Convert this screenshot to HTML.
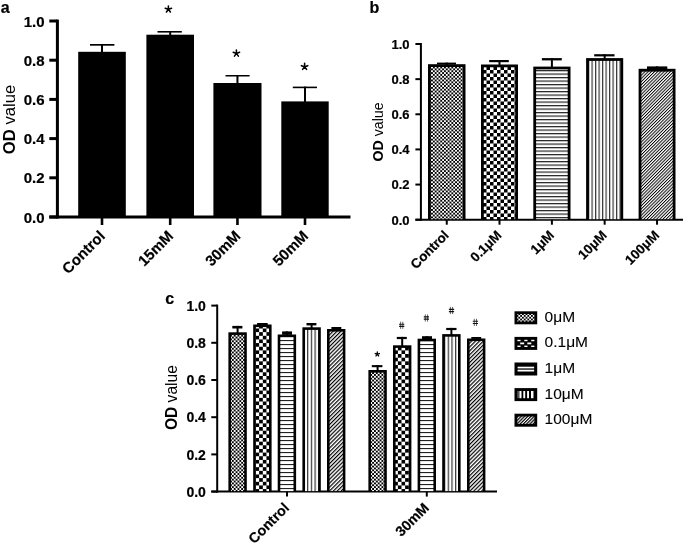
<!DOCTYPE html>
<html><head><meta charset="utf-8"><style>
html,body{margin:0;padding:0;background:#fff;}
svg{display:block;font-family:"Liberation Sans", sans-serif;filter:blur(0.35px);}
</style></head><body>
<svg width="685" height="544" viewBox="0 0 685 544">
<rect width="685" height="544" fill="#fff"/>
<defs>
 <pattern id="pdotsB" patternUnits="userSpaceOnUse" width="3.7" height="3.7">
  <rect width="3.7" height="3.7" fill="#fff"/>
  <rect x="0" y="0" width="1.85" height="1.85" fill="#000"/>
  <rect x="1.85" y="1.85" width="1.85" height="1.85" fill="#000"/>
 </pattern>
 <pattern id="pchkB" patternUnits="userSpaceOnUse" width="7.0" height="7.0">
  <rect width="7.0" height="7.0" fill="#fff"/>
  <rect x="0" y="0" width="3.5" height="3.5" fill="#000"/>
  <rect x="3.5" y="3.5" width="3.5" height="3.5" fill="#000"/>
 </pattern>
 <pattern id="phorB" patternUnits="userSpaceOnUse" width="10" height="3.5">
  <rect width="10" height="3.5" fill="#fff"/>
  <rect x="0" y="0" width="10" height="1.2" fill="#222"/>
 </pattern>
 <pattern id="pverB" patternUnits="userSpaceOnUse" width="3.5" height="10">
  <rect width="3.5" height="10" fill="#fff"/>
  <rect x="0" y="0" width="1.2" height="10" fill="#333"/>
 </pattern>
 <pattern id="pdiagB" patternUnits="userSpaceOnUse" width="2.25" height="2.25" patternTransform="rotate(45)">
  <rect width="2.25" height="2.25" fill="#fff"/>
  <rect x="0" y="0" width="0.95" height="2.25" fill="#000"/>
 </pattern>
 <pattern id="pdotsC" patternUnits="userSpaceOnUse" width="3.74" height="3.74">
  <rect width="3.74" height="3.74" fill="#fff"/>
  <rect x="0" y="0" width="1.87" height="1.87" fill="#000"/>
  <rect x="1.87" y="1.87" width="1.87" height="1.87" fill="#000"/>
 </pattern>
 <pattern id="pchkC" patternUnits="userSpaceOnUse" width="7.3" height="7.3">
  <rect width="7.3" height="7.3" fill="#fff"/>
  <rect x="0" y="0" width="3.65" height="3.65" fill="#000"/>
  <rect x="3.65" y="3.65" width="3.65" height="3.65" fill="#000"/>
 </pattern>
 <pattern id="phorC" patternUnits="userSpaceOnUse" width="10" height="4.0">
  <rect width="10" height="4.0" fill="#fff"/>
  <rect x="0" y="0" width="10" height="1.1" fill="#222"/>
 </pattern>
 <pattern id="pverC" patternUnits="userSpaceOnUse" width="3.7" height="10">
  <rect width="3.7" height="10" fill="#fff"/>
  <rect x="0" y="0" width="1.2" height="10" fill="#333"/>
 </pattern>
 <pattern id="pdiagC" patternUnits="userSpaceOnUse" width="2.76" height="2.76" patternTransform="rotate(45)">
  <rect width="2.76" height="2.76" fill="#fff"/>
  <rect x="0" y="0" width="1.2" height="2.76" fill="#000"/>
 </pattern>
 <pattern id="pdotsL" patternUnits="userSpaceOnUse" width="3.6" height="3.6">
  <rect width="3.6" height="3.6" fill="#fff"/>
  <rect x="0" y="0" width="1.8" height="1.8" fill="#000"/>
  <rect x="1.8" y="1.8" width="1.8" height="1.8" fill="#000"/>
 </pattern>
 <pattern id="pchkL" patternUnits="userSpaceOnUse" width="5.2" height="5.2">
  <rect width="5.2" height="5.2" fill="#fff"/>
  <rect x="0" y="0" width="2.6" height="2.6" fill="#000"/>
  <rect x="2.6" y="2.6" width="2.6" height="2.6" fill="#000"/>
 </pattern>
 <pattern id="phorL" patternUnits="userSpaceOnUse" width="10" height="3.0">
  <rect width="10" height="3.0" fill="#fff"/>
  <rect x="0" y="0" width="10" height="1.0" fill="#222"/>
 </pattern>
 <pattern id="pverL" patternUnits="userSpaceOnUse" width="3.2" height="10">
  <rect width="3.2" height="10" fill="#fff"/>
  <rect x="0" y="0" width="1.2" height="10" fill="#333"/>
 </pattern>
 <pattern id="pdiagL" patternUnits="userSpaceOnUse" width="2.3" height="2.3" patternTransform="rotate(45)">
  <rect width="2.3" height="2.3" fill="#fff"/>
  <rect x="0" y="0" width="1.2" height="2.3" fill="#000"/>
 </pattern></defs>
<text x="0.8" y="12.7" font-size="16" font-weight="bold" text-anchor="start" stroke="#000" stroke-width="0.2">a</text>
<line x1="57.4" y1="19.6" x2="57.4" y2="218.5" stroke="#000" stroke-width="3"/>
<line x1="49.3" y1="217.0" x2="57.4" y2="217.0" stroke="#000" stroke-width="3"/>
<text x="44.6" y="222.6" font-size="15" font-weight="bold" text-anchor="end" stroke="#000" stroke-width="0.2">0.0</text>
<line x1="49.3" y1="177.8" x2="57.4" y2="177.8" stroke="#000" stroke-width="3"/>
<text x="44.6" y="183.4" font-size="15" font-weight="bold" text-anchor="end" stroke="#000" stroke-width="0.2">0.2</text>
<line x1="49.3" y1="138.6" x2="57.4" y2="138.6" stroke="#000" stroke-width="3"/>
<text x="44.6" y="144.2" font-size="15" font-weight="bold" text-anchor="end" stroke="#000" stroke-width="0.2">0.4</text>
<line x1="49.3" y1="99.39999999999999" x2="57.4" y2="99.39999999999999" stroke="#000" stroke-width="3"/>
<text x="44.6" y="104.99999999999999" font-size="15" font-weight="bold" text-anchor="end" stroke="#000" stroke-width="0.2">0.6</text>
<line x1="49.3" y1="60.19999999999999" x2="57.4" y2="60.19999999999999" stroke="#000" stroke-width="3"/>
<text x="44.6" y="65.79999999999998" font-size="15" font-weight="bold" text-anchor="end" stroke="#000" stroke-width="0.2">0.8</text>
<line x1="49.3" y1="21.0" x2="57.4" y2="21.0" stroke="#000" stroke-width="3"/>
<text x="44.6" y="26.6" font-size="15" font-weight="bold" text-anchor="end" stroke="#000" stroke-width="0.2">1.0</text>
<line x1="49.3" y1="217" x2="350.5" y2="217" stroke="#000" stroke-width="3"/>
<rect x="101.00" y="44.00" width="2.00" height="8.80" fill="#000"/>
<rect x="90.00" y="44.00" width="24.40" height="1.70" fill="#000"/>
<rect x="78.20" y="51.80" width="47.60" height="165.20" fill="#000"/>
<line x1="102.0" y1="218" x2="102.0" y2="225" stroke="#000" stroke-width="2.6"/>
<text x="0" y="0" font-size="15" font-weight="bold" text-anchor="end" stroke="#000" stroke-width="0.2" transform="translate(106.0,237) rotate(-45)">Control</text>
<rect x="169.20" y="31.00" width="2.00" height="4.70" fill="#000"/>
<rect x="157.50" y="31.00" width="24.30" height="1.60" fill="#000"/>
<rect x="146.40" y="34.70" width="47.60" height="182.30" fill="#000"/>
<line x1="170.2" y1="218" x2="170.2" y2="225" stroke="#000" stroke-width="2.6"/>
<text x="0" y="0" font-size="15" font-weight="bold" text-anchor="end" stroke="#000" stroke-width="0.2" transform="translate(174.2,237) rotate(-45)">15mM</text>
<path d="M168.40,9.30L168.40,5.95M168.40,9.30L171.59,8.26M168.40,9.30L170.37,12.01M168.40,9.30L166.43,12.01M168.40,9.30L165.21,8.26" stroke="#000" stroke-width="1.55" stroke-linecap="round" fill="none"/>
<rect x="236.45" y="75.00" width="2.00" height="9.00" fill="#000"/>
<rect x="225.50" y="75.00" width="24.10" height="1.50" fill="#000"/>
<rect x="213.40" y="83.00" width="48.10" height="134.00" fill="#000"/>
<line x1="237.45" y1="218" x2="237.45" y2="225" stroke="#000" stroke-width="2.6"/>
<text x="0" y="0" font-size="15" font-weight="bold" text-anchor="end" stroke="#000" stroke-width="0.2" transform="translate(241.45,237) rotate(-45)">30mM</text>
<path d="M236.40,53.40L236.40,50.05M236.40,53.40L239.59,52.36M236.40,53.40L238.37,56.11M236.40,53.40L234.43,56.11M236.40,53.40L233.21,52.36" stroke="#000" stroke-width="1.55" stroke-linecap="round" fill="none"/>
<rect x="304.00" y="86.60" width="2.00" height="15.80" fill="#000"/>
<rect x="292.80" y="86.60" width="24.20" height="1.60" fill="#000"/>
<rect x="281.30" y="101.40" width="47.40" height="115.60" fill="#000"/>
<line x1="305.0" y1="218" x2="305.0" y2="225" stroke="#000" stroke-width="2.6"/>
<text x="0" y="0" font-size="15" font-weight="bold" text-anchor="end" stroke="#000" stroke-width="0.2" transform="translate(309.0,237) rotate(-45)">50mM</text>
<path d="M304.60,66.70L304.60,63.35M304.60,66.70L307.79,65.66M304.60,66.70L306.57,69.41M304.60,66.70L302.63,69.41M304.60,66.70L301.41,65.66" stroke="#000" stroke-width="1.55" stroke-linecap="round" fill="none"/>
<text x="369.6" y="13.2" font-size="16" font-weight="bold" text-anchor="start" stroke="#000" stroke-width="0.2">b</text>
<line x1="420.9" y1="43" x2="420.9" y2="220.6" stroke="#000" stroke-width="2"/>
<line x1="415.4" y1="219.7" x2="420.9" y2="219.7" stroke="#000" stroke-width="2"/>
<text x="409.5" y="224.6" font-size="13" font-weight="bold" text-anchor="end" stroke="#000" stroke-width="0.2">0.0</text>
<line x1="415.4" y1="184.56" x2="420.9" y2="184.56" stroke="#000" stroke-width="2"/>
<text x="409.5" y="189.46" font-size="13" font-weight="bold" text-anchor="end" stroke="#000" stroke-width="0.2">0.2</text>
<line x1="415.4" y1="149.42" x2="420.9" y2="149.42" stroke="#000" stroke-width="2"/>
<text x="409.5" y="154.32" font-size="13" font-weight="bold" text-anchor="end" stroke="#000" stroke-width="0.2">0.4</text>
<line x1="415.4" y1="114.27999999999999" x2="420.9" y2="114.27999999999999" stroke="#000" stroke-width="2"/>
<text x="409.5" y="119.17999999999999" font-size="13" font-weight="bold" text-anchor="end" stroke="#000" stroke-width="0.2">0.6</text>
<line x1="415.4" y1="79.13999999999999" x2="420.9" y2="79.13999999999999" stroke="#000" stroke-width="2"/>
<text x="409.5" y="84.03999999999999" font-size="13" font-weight="bold" text-anchor="end" stroke="#000" stroke-width="0.2">0.8</text>
<line x1="415.4" y1="44.0" x2="420.9" y2="44.0" stroke="#000" stroke-width="2"/>
<text x="409.5" y="48.9" font-size="13" font-weight="bold" text-anchor="end" stroke="#000" stroke-width="0.2">1.0</text>
<line x1="415.4" y1="219.7" x2="683" y2="219.7" stroke="#000" stroke-width="2"/>
<rect x="445.75" y="62.60" width="2.00" height="2.60" fill="#000"/>
<rect x="437.00" y="62.60" width="19.00" height="1.90" fill="#000"/>
<rect x="428.00" y="64.20" width="37.50" height="155.50" fill="#000"/>
<rect x="430.80" y="67.00" width="31.90" height="152.20" fill="url(#pdotsB)"/>
<line x1="446.75" y1="219.7" x2="446.75" y2="224.7" stroke="#000" stroke-width="2"/>
<text x="0" y="0" font-size="13.4" font-weight="bold" text-anchor="end" stroke="#000" stroke-width="0.2" transform="translate(449.75,236) rotate(-45)">Control</text>
<rect x="498.50" y="60.00" width="2.00" height="5.50" fill="#000"/>
<rect x="489.20" y="60.00" width="19.60" height="2.20" fill="#000"/>
<rect x="481.00" y="64.50" width="37.00" height="155.20" fill="#000"/>
<rect x="483.80" y="67.30" width="31.40" height="151.90" fill="url(#pchkB)"/>
<line x1="499.5" y1="219.7" x2="499.5" y2="224.7" stroke="#000" stroke-width="2"/>
<text x="0" y="0" font-size="13.4" font-weight="bold" text-anchor="end" stroke="#000" stroke-width="0.2" transform="translate(502.5,236) rotate(-45)">0.1&#956;M</text>
<rect x="550.90" y="58.10" width="2.00" height="9.50" fill="#000"/>
<rect x="541.90" y="58.10" width="19.90" height="2.30" fill="#000"/>
<rect x="533.30" y="66.60" width="37.20" height="153.10" fill="#000"/>
<rect x="536.10" y="69.40" width="31.60" height="149.80" fill="url(#phorB)"/>
<line x1="551.9" y1="219.7" x2="551.9" y2="224.7" stroke="#000" stroke-width="2"/>
<text x="0" y="0" font-size="13.4" font-weight="bold" text-anchor="end" stroke="#000" stroke-width="0.2" transform="translate(554.9,236) rotate(-45)">1&#956;M</text>
<rect x="603.65" y="54.20" width="2.00" height="4.90" fill="#000"/>
<rect x="594.20" y="54.20" width="20.30" height="2.20" fill="#000"/>
<rect x="586.10" y="58.10" width="37.10" height="161.60" fill="#000"/>
<rect x="588.90" y="60.90" width="31.50" height="158.30" fill="url(#pverB)"/>
<line x1="604.6500000000001" y1="219.7" x2="604.6500000000001" y2="224.7" stroke="#000" stroke-width="2"/>
<text x="0" y="0" font-size="13.4" font-weight="bold" text-anchor="end" stroke="#000" stroke-width="0.2" transform="translate(607.6500000000001,236) rotate(-45)">10&#956;M</text>
<rect x="656.05" y="66.40" width="2.00" height="3.40" fill="#000"/>
<rect x="647.00" y="66.40" width="20.30" height="2.60" fill="#000"/>
<rect x="638.60" y="68.80" width="36.90" height="150.90" fill="#000"/>
<rect x="641.40" y="71.60" width="31.30" height="147.60" fill="url(#pdiagB)"/>
<line x1="657.05" y1="219.7" x2="657.05" y2="224.7" stroke="#000" stroke-width="2"/>
<text x="0" y="0" font-size="13.4" font-weight="bold" text-anchor="end" stroke="#000" stroke-width="0.2" transform="translate(660.05,236) rotate(-45)">100&#956;M</text>
<text x="165.2" y="303.6" font-size="16" font-weight="bold" text-anchor="start" stroke="#000" stroke-width="0.2">c</text>
<line x1="217.2" y1="304.6" x2="217.2" y2="492.6" stroke="#000" stroke-width="2"/>
<line x1="211.3" y1="491.6" x2="217.2" y2="491.6" stroke="#000" stroke-width="2"/>
<text x="205.9" y="496.8" font-size="14" font-weight="bold" text-anchor="end" stroke="#000" stroke-width="0.2">0.0</text>
<line x1="211.3" y1="454.40000000000003" x2="217.2" y2="454.40000000000003" stroke="#000" stroke-width="2"/>
<text x="205.9" y="459.6" font-size="14" font-weight="bold" text-anchor="end" stroke="#000" stroke-width="0.2">0.2</text>
<line x1="211.3" y1="417.20000000000005" x2="217.2" y2="417.20000000000005" stroke="#000" stroke-width="2"/>
<text x="205.9" y="422.40000000000003" font-size="14" font-weight="bold" text-anchor="end" stroke="#000" stroke-width="0.2">0.4</text>
<line x1="211.3" y1="380.0" x2="217.2" y2="380.0" stroke="#000" stroke-width="2"/>
<text x="205.9" y="385.2" font-size="14" font-weight="bold" text-anchor="end" stroke="#000" stroke-width="0.2">0.6</text>
<line x1="211.3" y1="342.8" x2="217.2" y2="342.8" stroke="#000" stroke-width="2"/>
<text x="205.9" y="348.0" font-size="14" font-weight="bold" text-anchor="end" stroke="#000" stroke-width="0.2">0.8</text>
<line x1="211.3" y1="305.6" x2="217.2" y2="305.6" stroke="#000" stroke-width="2"/>
<text x="205.9" y="310.8" font-size="14" font-weight="bold" text-anchor="end" stroke="#000" stroke-width="0.2">1.0</text>
<line x1="211.3" y1="491.6" x2="497" y2="491.6" stroke="#000" stroke-width="2"/>
<rect x="236.60" y="325.90" width="2.00" height="7.40" fill="#000"/>
<rect x="232.30" y="325.90" width="10.10" height="2.60" fill="#000"/>
<rect x="228.40" y="332.30" width="18.40" height="159.30" fill="#000"/>
<rect x="231.00" y="334.90" width="13.20" height="156.20" fill="url(#pdotsC)"/>
<rect x="261.40" y="323.00" width="2.00" height="2.50" fill="#000"/>
<rect x="257.10" y="323.00" width="10.60" height="2.00" fill="#000"/>
<rect x="253.20" y="324.50" width="18.40" height="167.10" fill="#000"/>
<rect x="255.80" y="327.10" width="13.20" height="164.00" fill="url(#pchkC)"/>
<rect x="285.90" y="331.40" width="2.00" height="4.10" fill="#000"/>
<rect x="282.10" y="331.40" width="9.90" height="3.40" fill="#000"/>
<rect x="277.70" y="334.50" width="18.40" height="157.10" fill="#000"/>
<rect x="280.30" y="337.10" width="13.20" height="154.00" fill="url(#phorC)"/>
<rect x="310.60" y="323.00" width="2.00" height="5.30" fill="#000"/>
<rect x="306.50" y="323.00" width="9.90" height="2.40" fill="#000"/>
<rect x="302.40" y="327.30" width="18.40" height="164.30" fill="#000"/>
<rect x="305.00" y="329.90" width="13.20" height="161.20" fill="url(#pverC)"/>
<rect x="335.20" y="327.00" width="2.00" height="3.00" fill="#000"/>
<rect x="331.40" y="327.00" width="9.90" height="2.40" fill="#000"/>
<rect x="327.00" y="329.00" width="18.40" height="162.60" fill="#000"/>
<rect x="329.60" y="331.60" width="13.20" height="159.50" fill="url(#pdiagC)"/>
<rect x="376.60" y="365.10" width="2.00" height="5.90" fill="#000"/>
<rect x="371.80" y="365.10" width="10.60" height="2.10" fill="#000"/>
<rect x="368.40" y="370.00" width="18.40" height="121.60" fill="#000"/>
<rect x="371.00" y="372.60" width="13.20" height="118.50" fill="url(#pdotsC)"/>
<rect x="401.20" y="336.90" width="2.00" height="9.40" fill="#000"/>
<rect x="396.80" y="336.90" width="10.00" height="2.20" fill="#000"/>
<rect x="393.00" y="345.30" width="18.40" height="146.30" fill="#000"/>
<rect x="395.60" y="347.90" width="13.20" height="143.20" fill="url(#pchkC)"/>
<rect x="425.80" y="336.20" width="2.00" height="3.50" fill="#000"/>
<rect x="422.00" y="336.20" width="10.00" height="2.80" fill="#000"/>
<rect x="417.60" y="338.70" width="18.40" height="152.90" fill="#000"/>
<rect x="420.20" y="341.30" width="13.20" height="149.80" fill="url(#phorC)"/>
<rect x="450.40" y="327.90" width="2.00" height="7.20" fill="#000"/>
<rect x="446.20" y="327.90" width="10.30" height="2.20" fill="#000"/>
<rect x="442.20" y="334.10" width="18.40" height="157.50" fill="#000"/>
<rect x="444.80" y="336.70" width="13.20" height="154.40" fill="url(#pverC)"/>
<rect x="475.20" y="337.00" width="2.00" height="2.50" fill="#000"/>
<rect x="471.30" y="337.00" width="9.90" height="1.90" fill="#000"/>
<rect x="467.00" y="338.50" width="18.40" height="153.10" fill="#000"/>
<rect x="469.60" y="341.10" width="13.20" height="150.00" fill="url(#pdiagC)"/>
<line x1="287" y1="491.6" x2="287" y2="496.6" stroke="#000" stroke-width="2"/>
<text x="0" y="0" font-size="14.2" font-weight="bold" text-anchor="end" stroke="#000" stroke-width="0.2" transform="translate(290,508.8) rotate(-45)">Control</text>
<line x1="426.8" y1="491.6" x2="426.8" y2="496.6" stroke="#000" stroke-width="2"/>
<text x="0" y="0" font-size="14.2" font-weight="bold" text-anchor="end" stroke="#000" stroke-width="0.2" transform="translate(429.8,508.8) rotate(-45)">30mM</text>
<path d="M377.30,354.20L377.30,352.00M377.30,354.20L379.39,353.52M377.30,354.20L378.59,355.98M377.30,354.20L376.01,355.98M377.30,354.20L375.21,353.52" stroke="#000" stroke-width="1.3" stroke-linecap="round" fill="none"/>
<path d="M400.60,321.70L400.60,328.90M402.80,321.70L402.80,328.90" stroke="#555" stroke-width="0.9" fill="none"/><path d="M399.10,324.20L404.30,324.20M399.10,326.40L404.30,326.40" stroke="#111" stroke-width="1.1" fill="none"/>
<path d="M425.30,314.40L425.30,321.60M427.50,314.40L427.50,321.60" stroke="#555" stroke-width="0.9" fill="none"/><path d="M423.80,316.90L429.00,316.90M423.80,319.10L429.00,319.10" stroke="#111" stroke-width="1.1" fill="none"/>
<path d="M450.40,306.90L450.40,314.10M452.60,306.90L452.60,314.10" stroke="#555" stroke-width="0.9" fill="none"/><path d="M448.90,309.40L454.10,309.40M448.90,311.60L454.10,311.60" stroke="#111" stroke-width="1.1" fill="none"/>
<path d="M474.30,318.80L474.30,326.00M476.50,318.80L476.50,326.00" stroke="#555" stroke-width="0.9" fill="none"/><path d="M472.80,321.30L478.00,321.30M472.80,323.50L478.00,323.50" stroke="#111" stroke-width="1.1" fill="none"/>
<rect x="514.50" y="311.30" width="22.70" height="13.00" fill="#000"/>
<rect x="517.30" y="314.10" width="17.10" height="7.40" fill="url(#pdotsL)"/>
<text x="544.6" y="321.7" font-size="15.5" font-weight="normal" text-anchor="start" stroke="#000" stroke-width="0.1">0&#956;M</text>
<rect x="514.50" y="336.90" width="22.70" height="13.00" fill="#000"/>
<rect x="517.30" y="339.70" width="17.10" height="7.40" fill="#000"/>
<rect x="517.40" y="339.80" width="3.20" height="1.40" fill="#fff"/>
<rect x="517.40" y="345.60" width="3.20" height="1.40" fill="#fff"/>
<rect x="524.30" y="339.80" width="3.20" height="1.40" fill="#fff"/>
<rect x="524.30" y="345.60" width="3.20" height="1.40" fill="#fff"/>
<rect x="531.20" y="339.80" width="3.20" height="1.40" fill="#fff"/>
<rect x="531.20" y="345.60" width="3.20" height="1.40" fill="#fff"/>
<rect x="520.20" y="342.50" width="4.00" height="1.80" fill="#fff"/>
<rect x="527.30" y="342.50" width="4.00" height="1.80" fill="#fff"/>
<text x="544.6" y="347.3" font-size="15.5" font-weight="normal" text-anchor="start" stroke="#000" stroke-width="0.1">0.1&#956;M</text>
<rect x="514.50" y="362.50" width="22.70" height="13.00" fill="#000"/>
<rect x="517.30" y="365.30" width="17.10" height="7.40" fill="#000"/>
<rect x="517.60" y="366.70" width="16.50" height="1.70" fill="#fff"/>
<rect x="517.60" y="369.70" width="16.50" height="1.80" fill="#fff"/>
<text x="544.6" y="372.9" font-size="15.5" font-weight="normal" text-anchor="start" stroke="#000" stroke-width="0.1">1&#956;M</text>
<rect x="514.50" y="388.10" width="22.70" height="13.00" fill="#000"/>
<rect x="517.30" y="390.90" width="17.10" height="7.40" fill="#000"/>
<rect x="517.50" y="391.00" width="1.10" height="7.20" fill="#888"/>
<rect x="519.40" y="391.00" width="2.10" height="7.20" fill="#fff"/>
<rect x="523.30" y="391.00" width="1.90" height="7.20" fill="#fff"/>
<rect x="527.10" y="391.00" width="1.90" height="7.20" fill="#fff"/>
<rect x="531.00" y="391.00" width="2.00" height="7.20" fill="#fff"/>
<rect x="533.00" y="391.00" width="1.00" height="7.20" fill="#777"/>
<text x="544.6" y="398.5" font-size="15.5" font-weight="normal" text-anchor="start" stroke="#000" stroke-width="0.1">10&#956;M</text>
<rect x="514.50" y="413.70" width="22.70" height="13.00" fill="#000"/>
<rect x="517.30" y="416.50" width="17.10" height="7.40" fill="url(#pdiagL)"/>
<text x="544.6" y="424.1" font-size="15.5" font-weight="normal" text-anchor="start" stroke="#000" stroke-width="0.1">100&#956;M</text>
<text transform="translate(14.9,119.5) rotate(-90)" text-anchor="middle" font-size="16.7"><tspan font-weight="bold">OD</tspan><tspan> value</tspan></text>
<text transform="translate(382.6,132) rotate(-90)" text-anchor="middle" font-size="14.2"><tspan font-weight="bold">OD</tspan><tspan> value</tspan></text>
<text transform="translate(176.6,397.6) rotate(-90)" text-anchor="middle" font-size="15.6"><tspan font-weight="bold">OD</tspan><tspan> value</tspan></text>
</svg>
</body></html>
